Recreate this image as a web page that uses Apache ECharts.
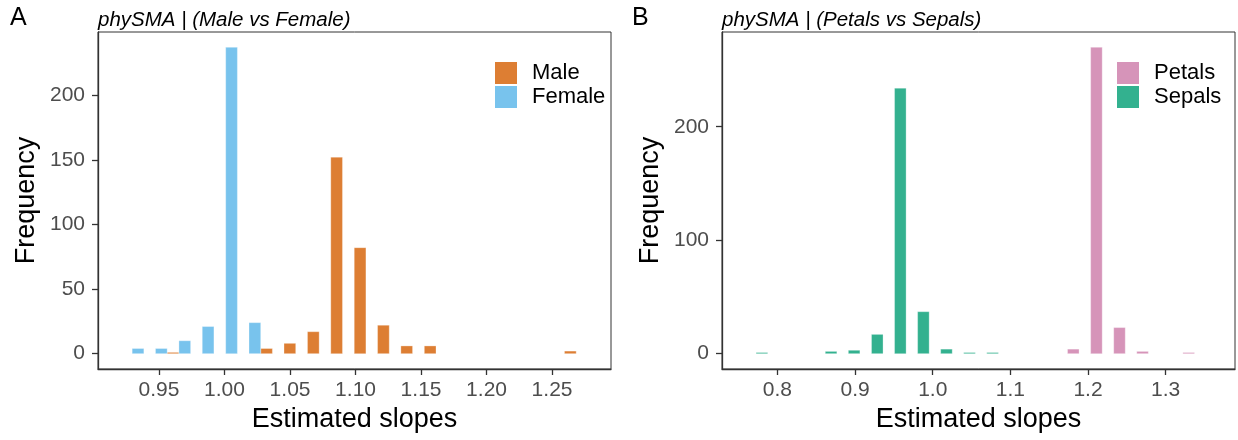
<!DOCTYPE html>
<html>
<head>
<meta charset="utf-8">
<script src="https://cdn.jsdelivr.net/npm/echarts@6/dist/echarts.min.js"></script>
<style>
html,body{margin:0;padding:0;background:#fff;}
#chart{width:1238px;height:440px;}
</style>
</head>
<body>
<div id="chart"></div>
<script>
// ---- Panel A data (Male vs Female) ----
const binsA = [0.9384, 0.9562, 0.9741, 0.9919, 1.0098, 1.0276, 1.0454, 1.0633, 1.0811, 1.0990,
               1.1168, 1.1346, 1.1525, 1.1703, 1.1882, 1.2060, 1.2238, 1.2417, 1.2595];
const binWidthA = 0.01784;
const maleA   = [0, 1, 0, 0, 0, 4, 8, 17, 152, 82, 22, 6, 6, 0, 0, 0, 0, 0, 2];
const femaleA = [4, 4, 10, 21, 237, 24, 0, 0, 0, 0, 0, 0, 0, 0, 0, 0, 0, 0, 0];
const xTicksA = [0.95, 1.00, 1.05, 1.10, 1.15, 1.20, 1.25];
const yTicksA = [0, 50, 100, 150, 200];

// ---- Panel B data (Petals vs Sepals) ----
const binsB = [0.7874, 0.8171, 0.8468, 0.8765, 0.9062, 0.9360, 0.9657, 0.9954, 1.0251, 1.0548,
               1.0845, 1.1142, 1.1439, 1.1736, 1.2034, 1.2331, 1.2628, 1.2925, 1.3222];
const binWidthB = 0.02971;
const petalsB = [0, 0, 0, 0, 0, 0, 0, 0, 0, 0, 0, 0, 0, 4, 270, 23, 2, 0, 1];
const sepalsB = [1, 0, 0, 2, 3, 17, 234, 37, 4, 1, 1, 0, 0, 0, 0, 0, 0, 0, 0];
const xTicksB = [0.8, 0.9, 1.0, 1.1, 1.2, 1.3];
const yTicksB = [0, 100, 200];

const FONT = '"Liberation Sans", Arial, Helvetica, sans-serif';
const COL = {Male:'#DD7E33', Female:'#78C3ED', Petals:'#D694B9', Sepals:'#33B18F'};

function toData(bins, counts){ return bins.map((b,i)=>[b, counts[i]]); }

function makeSeries(name, bins, counts, binW, side, gi){
  return {
    type:'custom', name:name, xAxisIndex:gi, yAxisIndex:gi,
    coordinateSystem:'cartesian2d', clip:true,
    encode:{x:0, y:1},
    data:toData(bins, counts),
    itemStyle:{color:COL[name]},
    renderItem:function(params, api){
      const c = api.value(0), v = api.value(1);
      if (!v) return null;
      const x0 = side < 0 ? c - binW/2 : c;
      const x1 = side < 0 ? c : c + binW/2;
      const p0 = api.coord([x0, v]);
      const p1 = api.coord([x1, 0]);
      return {type:'rect', shape:{x:p0[0], y:p0[1], width:p1[0]-p0[0], height:p1[1]-p0[1]},
              style:{fill:COL[name], stroke:'rgba(255,255,255,0.6)', lineWidth:0.5}};
    }
  };
}

function xAxis(gi, min, max, ticks, dec){
  return {type:'value', gridIndex:gi, min:min, max:max,
    name:'Estimated slopes', nameLocation:'middle', nameGap:37,
    nameTextStyle:{fontSize:27, color:'#000', fontFamily:FONT},
    axisLine:{show:true, onZero:false, lineStyle:{color:'#333', width:1.3}},
    axisTick:{show:true, length:6, customValues:ticks, lineStyle:{color:'#333', width:1.3}},
    axisLabel:{customValues:ticks, fontSize:21, color:'#4D4D4D', fontFamily:FONT, margin:11,
      formatter:(v)=>Number(v).toFixed(dec)},
    splitLine:{show:false}};
}
function yAxis(gi, min, max, ticks){
  return {type:'value', gridIndex:gi, min:min, max:max,
    name:'Frequency', nameLocation:'middle', nameGap:58, nameRotate:90,
    nameTextStyle:{fontSize:27, color:'#000', fontFamily:FONT},
    axisLine:{show:true, onZero:false, lineStyle:{color:'#333', width:1.3}},
    axisTick:{show:true, length:6, customValues:ticks, lineStyle:{color:'#333', width:1.3}},
    axisLabel:{customValues:ticks, fontSize:21, color:'#4D4D4D', fontFamily:FONT, margin:13,
      formatter:(v)=>String(Math.round(v))},
    splitLine:{show:false}};
}

const chart = echarts.init(document.getElementById('chart'), null, {renderer:'canvas'});
chart.setOption({
  animation:false,
  backgroundColor:'#fff',
  textStyle:{fontFamily:FONT},
  title:[
    {text:'A', left:10, top:6, padding:0, textStyle:{fontSize:25, fontWeight:'normal', color:'#000', fontFamily:FONT}},
    {text:'B', left:632, top:6, padding:0, textStyle:{fontSize:25, fontWeight:'normal', color:'#000', fontFamily:FONT}},
    {text:'phySMA | (Male vs Female)', left:98, top:10, padding:0,
      textStyle:{fontSize:20.5, fontStyle:'italic', fontWeight:'normal', color:'#000', fontFamily:FONT}},
    {text:'phySMA | (Petals vs Sepals)', left:722, top:10, padding:0,
      textStyle:{fontSize:20.5, fontStyle:'italic', fontWeight:'normal', color:'#000', fontFamily:FONT}}
  ],
  legend:[
    {data:[{name:'Male', icon:'rect', itemStyle:{color:COL.Male}}, {name:'Female', icon:'rect', itemStyle:{color:COL.Female}}],
     orient:'vertical', left:495, top:62, padding:0, itemWidth:22, itemHeight:22, itemGap:2,
     textStyle:{fontSize:22, color:'#000', fontFamily:FONT, padding:[0,0,0,10], lineHeight:22},
     selectedMode:false},
    {data:[{name:'Petals', icon:'rect', itemStyle:{color:COL.Petals}}, {name:'Sepals', icon:'rect', itemStyle:{color:COL.Sepals}}],
     orient:'vertical', left:1117, top:62, padding:0, itemWidth:22, itemHeight:22, itemGap:2,
     textStyle:{fontSize:22, color:'#000', fontFamily:FONT, padding:[0,0,0,10], lineHeight:22},
     selectedMode:false}
  ],
  grid:[
    {left:98, top:32, width:513, height:337, show:true, borderColor:'#333', borderWidth:1, backgroundColor:'transparent'},
    {left:722, top:32, width:513, height:337, show:true, borderColor:'#333', borderWidth:1, backgroundColor:'transparent'}
  ],
  xAxis:[xAxis(0, 0.9034, 1.295, xTicksA, 2), xAxis(1, 0.7286, 1.3893, xTicksB, 1)],
  yAxis:[yAxis(0, -11.85, 248.85, yTicksA), yAxis(1, -13.5, 283.5, yTicksB)],
  series:[
    makeSeries('Male', binsA, maleA, binWidthA, 1, 0),
    makeSeries('Female', binsA, femaleA, binWidthA, -1, 0),
    makeSeries('Petals', binsB, petalsB, binWidthB, 1, 1),
    makeSeries('Sepals', binsB, sepalsB, binWidthB, -1, 1)
  ]
});
</script>
</body>
</html>
